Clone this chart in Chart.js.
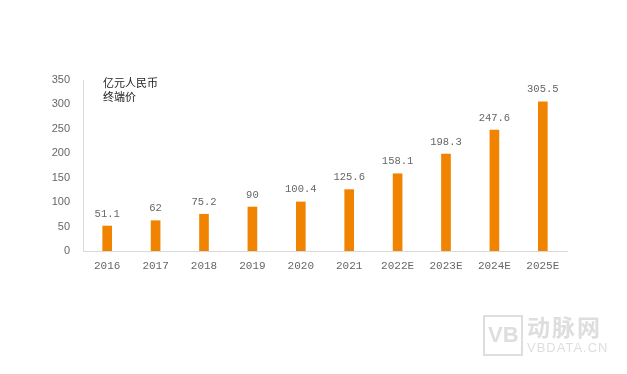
<!DOCTYPE html>
<html>
<head>
<meta charset="utf-8">
<script src="https://cdn.jsdelivr.net/npm/chart.js@4/dist/chart.umd.min.js"></script>
<style>
  html, body { margin: 0; padding: 0; background: #fff; }
  #wrap { width: 627px; height: 374px; position: relative; }
</style>
</head>
<body>
<div id="wrap"><canvas id="chart"></canvas></div>
<script>
// 终端价（亿元人民币）
const years  = ['2016', '2017', '2018', '2019', '2020', '2021', '2022E', '2023E', '2024E', '2025E'];
const values = [51.1, 62, 75.2, 90, 100.4, 125.6, 158.1, 198.3, 247.6, 305.5];
const yTicks = [0, 50, 100, 150, 200, 250, 300, 350];

const BAR_COLOR  = '#F08300';
const TEXT_COLOR = '#666';
const NUM_FONT   = '"Liberation Mono", "DejaVu Sans Mono", monospace';

const barLabels = {
  id: 'barLabels',
  afterDatasetsDraw(chart) {
    const { ctx: c } = chart;
    const meta = chart.getDatasetMeta(0);
    c.save();
    c.font = `10.5px ${NUM_FONT}`;
    c.fillStyle = TEXT_COLOR;
    c.textAlign = 'center';
    c.textBaseline = 'bottom';
    meta.data.forEach((bar, i) => {
      c.fillText(String(values[i]), bar.x, bar.y - 7);
    });
    c.restore();
  },
};

const unitLabel = {
  id: 'unitLabel',
  afterDraw(chart) {
    const { ctx: c, chartArea } = chart;
    c.save();
    c.font = '11px "Noto Sans CJK SC", sans-serif';
    c.fillStyle = '#222';
    c.textAlign = 'left';
    c.textBaseline = 'middle';
    c.fillText('亿元人民币', chartArea.left + 20, 83);
    c.fillText('终端价', chartArea.left + 20, 97);
    // watermark
    c.fillStyle = 'rgba(200,200,200,0.6)';
    c.font = 'bold 23px "Noto Sans CJK SC", sans-serif';
    c.letterSpacing = '2px';
    c.fillText('动脉网', 527, 327);
    c.font = '13px "Liberation Sans", sans-serif';
    c.letterSpacing = '1px';
    c.fillText('VBDATA.CN', 527, 348);
    c.strokeStyle = 'rgba(200,200,200,0.6)';
    c.lineWidth = 2;
    c.strokeRect(484, 316, 38, 39);
    c.letterSpacing = '0px';
    c.font = 'bold 22px "Liberation Sans", sans-serif';
    c.fillText('VB', 488, 336);
    c.restore();
  },
};

new Chart(document.getElementById('chart'), {
  type: 'bar',
  data: {
    labels: years,
    datasets: [{
      data: values,
      backgroundColor: BAR_COLOR,
      borderWidth: 0,
      barThickness: 9,
    }],
  },
  options: {
    responsive: true,
    maintainAspectRatio: false,
    animation: false,
    layout: { padding: { top: 80, right: 60, bottom: 0, left: 0 } },
    plugins: {
      legend: { display: false },
      tooltip: { enabled: false },
    },
    scales: {
      x: {
        grid: { display: false, drawTicks: false },
        border: { display: true, color: '#d9d9d9', width: 1 },
        ticks: { color: TEXT_COLOR, font: { size: 11, family: NUM_FONT }, padding: 8, maxRotation: 0 },
        afterFit(scale) { scale.height = 374 - 251; },
      },
      y: {
        min: 0,
        max: 350,
        afterBuildTicks(scale) { scale.ticks = yTicks.map(v => ({ value: v })); },
        grid: { display: false, drawTicks: false },
        border: { display: true, color: '#d9d9d9', width: 1 },
        ticks: { color: TEXT_COLOR, font: { size: 11, family: '"Liberation Sans", Arial, sans-serif' }, padding: 13 },
        afterFit(scale) { scale.width = 83; },
      },
    },
  },
  plugins: [barLabels, unitLabel],
});
</script>
</body>
</html>
